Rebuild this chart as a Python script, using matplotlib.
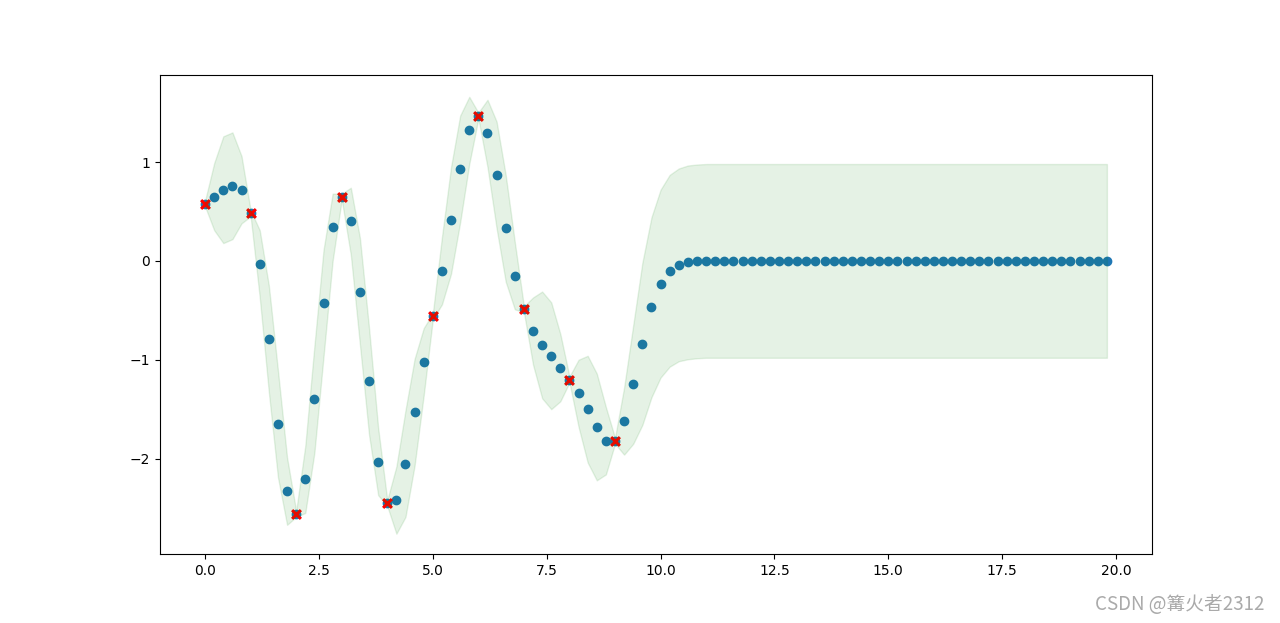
import numpy as np
import matplotlib
matplotlib.use("Agg")
import matplotlib.pyplot as plt

# test inputs (0.0 .. 19.8, step 0.2)
x_test = np.round(np.arange(0, 20, 0.2), 1)

# predicted mean
mean_pred = [
    0.58, 0.65, 0.72, 0.76, 0.72, 0.48, -0.03, -0.79, -1.65, -2.33,
    -2.56, -2.21, -1.40, -0.43, 0.34, 0.65, 0.40, -0.31, -1.22, -2.03,
    -2.45, -2.42, -2.05, -1.53, -1.02, -0.56, -0.10, 0.41, 0.93, 1.32,
    1.47, 1.29, 0.87, 0.33, -0.15, -0.49, -0.71, -0.85, -0.96, -1.08,
    -1.20, -1.34, -1.50, -1.68, -1.82, -1.82, -1.62, -1.25, -0.84, -0.47,
    -0.23, -0.10, -0.04, -0.015, -0.005, 0.0, 0.0, 0.0, 0.0, 0.0,
    0.0, 0.0, 0.0, 0.0, 0.0, 0.0, 0.0, 0.0, 0.0, 0.0,
    0.0, 0.0, 0.0, 0.0, 0.0, 0.0, 0.0, 0.0, 0.0, 0.0,
    0.0, 0.0, 0.0, 0.0, 0.0, 0.0, 0.0, 0.0, 0.0, 0.0,
    0.0, 0.0, 0.0, 0.0, 0.0, 0.0, 0.0, 0.0, 0.0, 0.0,
]

# half-width of the confidence band
band_halfwidth = [
    0.03, 0.34, 0.54, 0.54, 0.34, 0.03, 0.34, 0.54, 0.54, 0.34,
    0.03, 0.34, 0.54, 0.54, 0.34, 0.03, 0.34, 0.54, 0.54, 0.34,
    0.03, 0.34, 0.54, 0.54, 0.34, 0.03, 0.34, 0.54, 0.54, 0.34,
    0.03, 0.34, 0.54, 0.54, 0.34, 0.03, 0.34, 0.54, 0.54, 0.34,
    0.03, 0.34, 0.54, 0.54, 0.34, 0.03, 0.34, 0.60, 0.82, 0.91,
    0.95, 0.97, 0.975, 0.98, 0.98, 0.98, 0.98, 0.98, 0.98, 0.98,
    0.98, 0.98, 0.98, 0.98, 0.98, 0.98, 0.98, 0.98, 0.98, 0.98,
    0.98, 0.98, 0.98, 0.98, 0.98, 0.98, 0.98, 0.98, 0.98, 0.98,
    0.98, 0.98, 0.98, 0.98, 0.98, 0.98, 0.98, 0.98, 0.98, 0.98,
    0.98, 0.98, 0.98, 0.98, 0.98, 0.98, 0.98, 0.98, 0.98, 0.98,
]

# training observations
x_train = [0, 1, 2, 3, 4, 5, 6, 7, 8, 9]
y_train = [0.58, 0.48, -2.56, 0.65, -2.45, -0.56, 1.47, -0.49, -1.20, -1.82]

mean_arr = np.array(mean_pred)
hw_arr = np.array(band_halfwidth)

fig, ax = plt.subplots(figsize=(12.8, 6.23), dpi=100)
ax.scatter(x_test, mean_arr)
ax.scatter(x_train, y_train, c='r', marker='x', s=40, linewidths=2.2)
ax.fill_between(x_test, mean_arr + hw_arr, mean_arr - hw_arr, color='g', alpha=0.1)

ax.set_xlim(-0.99, 20.79)
ax.set_ylim(-2.97, 1.883)

fig.text(0.988, 0.029, "CSDN @篝火者2312", ha='right', va='center',
         fontsize=13.5, color='#aaaaaa',
         family=['Noto Sans CJK SC', 'DejaVu Sans'])

fig.savefig("out.png", dpi=100)
